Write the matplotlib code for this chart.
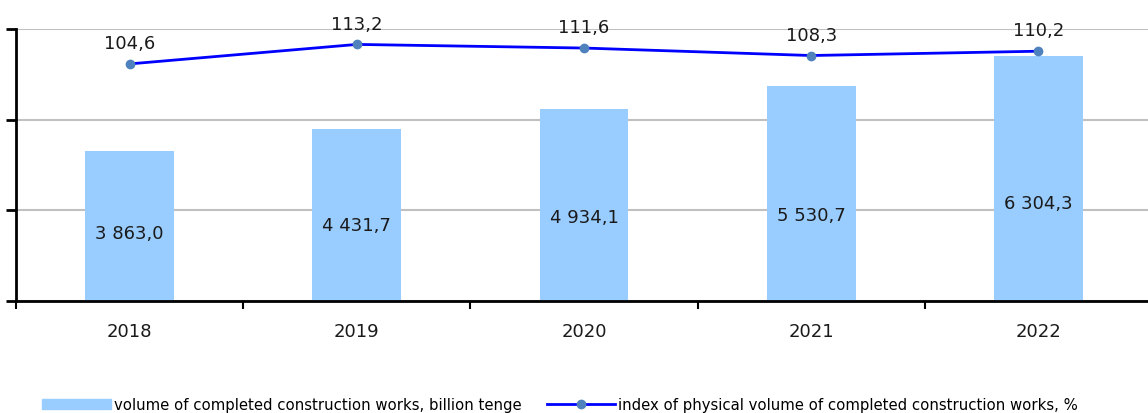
import matplotlib.pyplot as plt

years = ["2018", "2019", "2020", "2021", "2022"]
volume = [3863.0, 4431.7, 4934.1, 5530.7, 6304.3]
index_pct = [104.6, 113.2, 111.6, 108.3, 110.2]

vol_labels = ["3 863,0", "4 431,7", "4 934,1", "5 530,7", "6 304,3"]
idx_labels = ["104,6", "113,2", "111,6", "108,3", "110,2"]

# where the bar labels sit, as a fraction of bar height
label_frac = [0.45, 0.44, 0.44, 0.40, 0.40]

W, H = 1148, 414
fig = plt.figure(figsize=(W / 100, H / 100), dpi=100)
ax = fig.add_axes([16 / W, (H - 302) / H, (1152 - 16) / W, 272 / H])

x = list(range(len(years)))
ax.bar(x, volume, width=0.39, color="#99ccff", zorder=2)
ax.set_xlim(-0.5, len(years) - 0.5)
ax.set_ylim(0, 7000)
ax.set_yticks([0, 7000 / 3, 2 * 7000 / 3, 7000])
ax.set_yticklabels([])
ax.grid(axis="y", color="#c0c0c0", linewidth=1.5, zorder=0)

for i, v in enumerate(volume):
    ax.text(i, v * label_frac[i], vol_labels[i], ha="center", va="center",
            fontsize=13, color="#1a1a1a", zorder=4)

ax.set_xticks(x)
ax.set_xticklabels(years, fontsize=13, color="#1a1a1a")
ax.set_xticks([i - 0.5 for i in range(len(years) + 1)], minor=True)
ax.tick_params(axis="x", which="major", length=0, pad=15)
ax.tick_params(axis="x", which="minor", length=6, width=1.5, direction="out")
ax.tick_params(axis="y", length=7, width=2, direction="out")

for s in ["top", "right"]:
    ax.spines[s].set_visible(False)
ax.spines["left"].set_linewidth(2)
ax.spines["bottom"].set_linewidth(2)

ax2 = ax.twinx()
ax2.set_ylim(0, 120)
ax2.axis("off")
ax2.plot(x, index_pct, color="#0000ff", linewidth=2, marker="o",
         markersize=6, markerfacecolor="#4f81bd", markeredgecolor="#4f81bd",
         zorder=5)
for i, v in enumerate(index_pct):
    ax2.annotate(idx_labels[i], (i, v), xytext=(0, 15), textcoords="offset points",
                 ha="center", va="center", fontsize=13, color="#1a1a1a",
                 annotation_clip=False)

h1 = plt.Rectangle((0, 0), 1, 1, color="#99ccff")
h2 = plt.Line2D([], [], color="#0000ff", linewidth=2, marker="o", markersize=6,
                markerfacecolor="#4f81bd", markeredgecolor="#4f81bd")
fig.legend([h1, h2],
           ["volume of completed construction works, billion tenge",
            "index of physical volume of completed construction works, %"],
           loc="lower center", bbox_to_anchor=(560 / W, -0.03), ncol=2,
           frameon=False, fontsize=10.7, handlelength=4.6, handleheight=0.65,
           handletextpad=0.2, columnspacing=1.7)

fig.savefig("out.png", dpi=100)
